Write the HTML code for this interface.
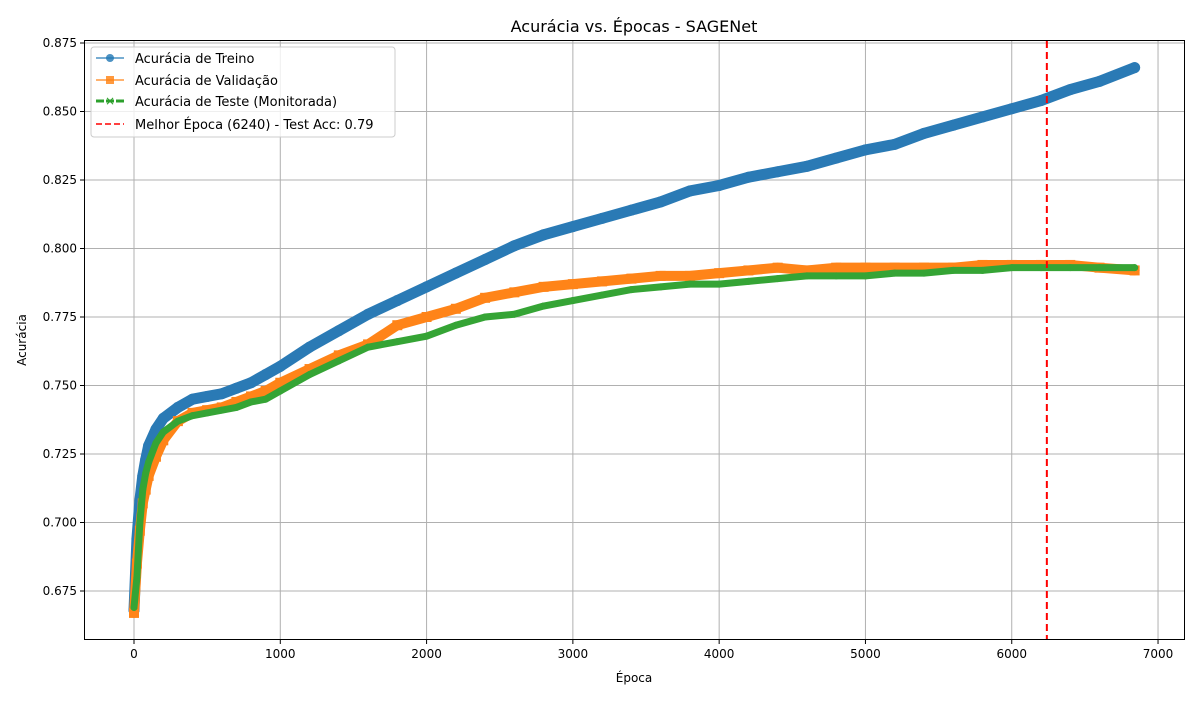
<!DOCTYPE html>
<html><head><meta charset="utf-8"><style>
body{margin:0;background:#fff;width:1200px;height:700px;overflow:hidden}
svg text{font-family:"DejaVu Sans","Liberation Sans",sans-serif}
</style></head><body>
<svg id="chart" width="1200" height="700" xmlns="http://www.w3.org/2000/svg">
<rect x="0" y="0" width="1200" height="700" fill="#fff"/>
<text x="634" y="32" font-size="16" text-anchor="middle">Acurácia vs. Épocas - SAGENet</text>
<g id="grid"></g>
<g id="series"></g>
<rect x="84.5" y="40.5" width="1100" height="599" fill="none" stroke="#000" stroke-width="1"/>
<g id="ticks"></g>
<text x="634" y="682" font-size="12" text-anchor="middle">Época</text>
<text x="0" y="0" font-size="12" text-anchor="middle" transform="translate(26,340) rotate(-90)">Acurácia</text>
<g>
<rect x="91" y="47" width="304" height="90" rx="3" fill="#fff" fill-opacity="0.8" stroke="#ccc"/>
<g><line x1="96" y1="58" x2="124" y2="58" stroke="#1f77b4" stroke-width="1.5" opacity="0.8"/><circle cx="110" cy="58" r="4" fill="#1f77b4" opacity="0.8"/><text x="135" y="63" font-size="13">Acurácia de Treino</text></g>
<g><line x1="96" y1="80" x2="124" y2="80" stroke="#ff7f0e" stroke-width="1.5" opacity="0.8"/><rect x="106" y="76" width="8" height="8" fill="#ff7f0e" opacity="0.8"/><text x="135" y="85" font-size="13">Acurácia de Validação</text></g>
<g><line x1="96" y1="101" x2="124" y2="101" stroke="#2ca02c" stroke-width="3" stroke-dasharray="8,2"/><text x="110" y="105" font-size="12" fill="#2ca02c" text-anchor="middle">×</text><text x="135" y="106" font-size="13">Acurácia de Teste (Monitorada)</text></g>
<g><line x1="96" y1="124" x2="124" y2="124" stroke="#f00" stroke-width="1.5" stroke-dasharray="6,3"/><text x="135" y="129" font-size="13">Melhor Época (6240) - Test Acc: 0.79</text></g>
</g>
</svg>
<script>
const epochs=[0,20,40,60,80,100,150,200,300,400,500,600,700,800,900,1000,1200,1400,1600,1800,2000,2200,2400,2600,2800,3000,3200,3400,3600,3800,4000,4200,4400,4600,4800,5000,5200,5400,5600,5800,6000,6200,6400,6600,6840];
const trainAcc=[0.668,0.694,0.708,0.717,0.723,0.728,0.734,0.738,0.742,0.745,0.746,0.747,0.749,0.751,0.754,0.757,0.764,0.770,0.776,0.781,0.786,0.791,0.796,0.801,0.805,0.808,0.811,0.814,0.817,0.821,0.823,0.826,0.828,0.830,0.833,0.836,0.838,0.842,0.845,0.848,0.851,0.854,0.858,0.861,0.866];
const valAcc=[0.667,0.685,0.697,0.707,0.712,0.717,0.724,0.730,0.737,0.740,0.741,0.742,0.744,0.746,0.748,0.751,0.756,0.761,0.765,0.772,0.775,0.778,0.782,0.784,0.786,0.787,0.788,0.789,0.790,0.790,0.791,0.792,0.793,0.792,0.793,0.793,0.793,0.793,0.793,0.794,0.794,0.794,0.794,0.793,0.792];
const testAcc=[0.669,0.680,0.700,0.712,0.718,0.722,0.729,0.733,0.737,0.739,0.740,0.741,0.742,0.744,0.745,0.748,0.754,0.759,0.764,0.766,0.768,0.772,0.775,0.776,0.779,0.781,0.783,0.785,0.786,0.787,0.787,0.788,0.789,0.790,0.790,0.790,0.791,0.791,0.792,0.792,0.793,0.793,0.793,0.793,0.793];
const xTicks=[0,1000,2000,3000,4000,5000,6000,7000];
const yTicks=[0.675,0.700,0.725,0.750,0.775,0.800,0.825,0.850,0.875];
const bestEpoch=6240;
const NS="http://www.w3.org/2000/svg";
const X=v=>134+v*0.14629;
const Y=v=>43+(0.875-v)*2740;
function mk(tag,attrs,parent){const e=document.createElementNS(NS,tag);for(const k in attrs)e.setAttribute(k,attrs[k]);parent.appendChild(e);return e;}
const grid=document.getElementById('grid'),ticks=document.getElementById('ticks'),ser=document.getElementById('series');
xTicks.forEach(t=>{
 const gl=mk('line',{x1:X(t),x2:X(t),y1:41,y2:640,stroke:'#b0b0b0','stroke-width':1},grid);
 
 
 const tl=mk('line',{x1:X(t),x2:X(t),y1:640,y2:644,stroke:'#000'},ticks);
 
 
 const tx=mk('text',{x:X(t),y:658,'font-size':12,'text-anchor':'middle'},ticks);tx.textContent=t;
 
 
});
yTicks.forEach(t=>{
 const gl=mk('line',{x1:85,x2:1185,y1:Y(t),y2:Y(t),stroke:'#b0b0b0','stroke-width':1},grid);
 
 
 const tl=mk('line',{x1:80,x2:84,y1:Y(t),y2:Y(t),stroke:'#000'},ticks);
 
 
 const tx=mk('text',{x:77,y:Y(t)+4,'font-size':12,'text-anchor':'end'},ticks);tx.textContent=t.toFixed(3);
 
 
});
function series(vals,color,w,name,marker){
 const pts=epochs.map((e,i)=>X(e)+','+Y(vals[i])).join(' ');
 const p=mk('polyline',{points:pts,fill:'none',stroke:color,'stroke-width':w,'stroke-linejoin':'round','stroke-linecap':'round'},ser);
 
 
 epochs.forEach((e,i)=>{
  let m;
  if(marker==='o')m=mk('circle',{cx:X(e),cy:Y(vals[i]),r:w/2,fill:color},ser);
  else if(marker==='s')m=mk('rect',{x:X(e)-w/2,y:Y(vals[i])-w/2,width:w,height:w,fill:color},ser);
  else m=mk('circle',{cx:X(e),cy:Y(vals[i]),r:w/2,fill:color},ser);
  
  
 });
}
series(trainAcc,'#2a7ab5',11,'train','o');
series(valAcc,'#ff8418',10,'val','s');
series(testAcc,'#35a435',7,'test','x');
const bl=mk('line',{x1:X(bestEpoch),x2:X(bestEpoch),y1:41,y2:640,stroke:'#f00','stroke-width':2,'stroke-dasharray':'7,4'},ser);


</script>
</body></html>
